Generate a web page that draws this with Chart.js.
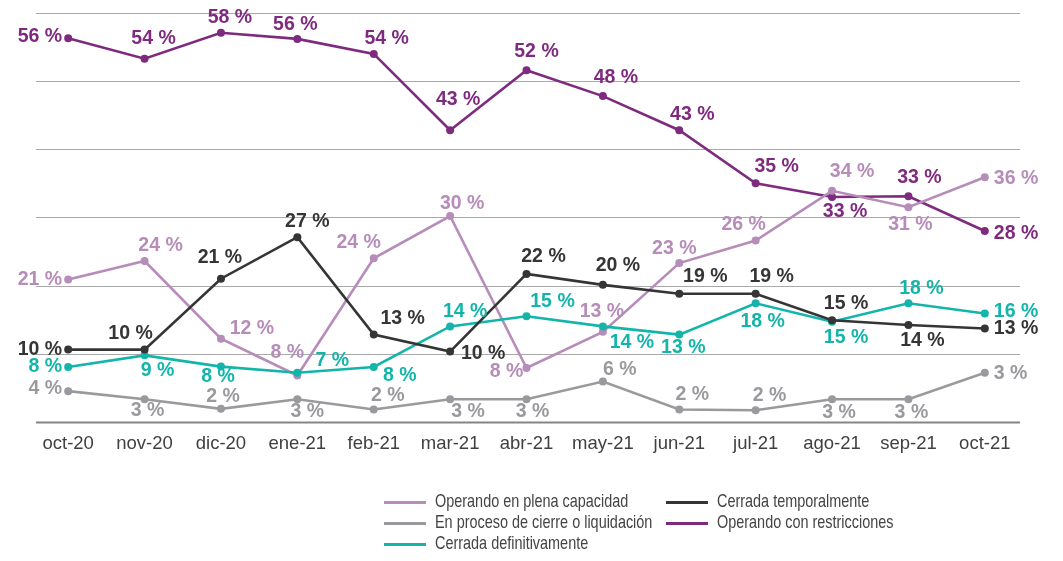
<!DOCTYPE html>
<html lang="es">
<head>
<meta charset="utf-8">
<title>Estado de las empresas</title>
<script src="https://cdn.jsdelivr.net/npm/chart.js@4.4.1/dist/chart.umd.min.js"></script>
<style>
  body { margin: 0; background: #fff; }
  #wrap { position: relative; width: 1063px; height: 561px; }
  #leyenda { position: absolute; left: 0; top: 0; font-family: "Liberation Sans", Arial, sans-serif; color: #444; }
  .item { position: absolute; height: 20px; white-space: nowrap; }
  .item span.linea { position: absolute; left: 0; top: 9px; width: 42px; height: 3px; }
  .item span.txt { position: absolute; left: 51px; top: -2px; font-size: 18.5px; transform: scaleX(0.78); transform-origin: left center; }
</style>
</head>
<body>
<div id="wrap">
  <canvas id="grafico" width="1063" height="561"></canvas>
  <div id="leyenda"></div>
</div>
<script>
"use strict";

// Meses del eje x
const meses = ["oct-20", "nov-20", "dic-20", "ene-21", "feb-21", "mar-21", "abr-21",
  "may-21", "jun-21", "jul-21", "ago-21", "sep-21", "oct-21"];

// Valores (porcentaje)
const plena = [20.9, 23.6, 12.2, 6.8, 24.0, 30.2, 7.9, 13.2, 23.3, 26.6, 33.9, 31.5, 35.9];
const temporal = [10.6, 10.6, 21.0, 27.1, 12.8, 10.3, 21.7, 20.1, 18.8, 18.8, 14.9, 14.2, 13.7];
const liquidacion = [4.5, 3.3, 1.9, 3.3, 1.8, 3.3, 3.3, 5.9, 1.8, 1.7, 3.3, 3.3, 7.2];
const restricciones = [56.3, 53.3, 57.1, 56.2, 54.0, 42.8, 51.6, 47.8, 42.8, 35.0, 33.0, 33.1, 28.0];
const definitiva = [8.05, 9.75, 8.1, 7.2, 8.05, 14.0, 15.5, 14.0, 12.8, 17.4, 14.7, 17.4, 15.9];

// Etiquetas tal como aparecen en el grafico
const etqPlena = [21, 24, 12, 8, 24, 30, 8, 13, 23, 26, 34, 31, 36];
const etqTemporal = [10, 10, 21, 27, 13, 10, 22, 20, 19, 19, 15, 14, 13];
const etqLiquidacion = [4, 3, 2, 3, 2, 3, 3, 6, 2, 2, 3, 3, 3];
const etqRestricciones = [56, 54, 58, 56, 54, 43, 52, 48, 43, 35, 33, 33, 28];
const etqDefinitiva = [8, 9, 8, 7, 8, 14, 15, 14, 13, 18, 15, 18, 16];

// Marcas del eje y (solo lineas de grilla)
const ticksY = [0, 10, 20, 30, 40, 50, 60];

// Donde va cada etiqueta respecto a su punto [dx, dy, alineacion]
const posPlena = [[-6, 0, "right"], [16, -15], [31, -10], [-10, -23], [-15, -16], [12, -12], [-20, 4],
  [-1, -20], [-5, -14], [-12, -16], [20, -19], [2, 17], [9, 1, "left"]];
const posTemporal = [[-6, 0, "right"], [-14, -16], [-1, -21], [10, -16], [29, -16], [33, 2], [17, -17],
  [15, -19], [26, -17], [16, -17], [14, -17], [14, 16], [9, 0, "left"]];
const posLiquidacion = [[-6, -3, "right"], [3, 11], [2, -12], [10, 12], [14, -14], [18, 12], [6, 12],
  [17, -12], [13, -15], [14, -15], [7, 13], [3, 13], [9, 1, "left"]];
const posRestricciones = [[-6, -2, "right"], [9, -20], [9, -15], [-2, -14], [13, -15], [8, -31], [10, -19],
  [13, -18], [13, -16], [21, -17], [13, 15], [11, -19], [9, 3, "left"]];
const posDefinitiva = [[-6, 0, "right"], [13, 15], [-3, 10], [35, -12], [26, 9], [15, -15], [26, -15],
  [29, 16], [4, 13], [7, 18], [14, 16], [13, -15], [9, -2, "left"]];

const series = [
  { nombre: "En proceso de cierre o liquidación", datos: liquidacion, etq: etqLiquidacion, pos: posLiquidacion, color: "#9a9a9e" },
  { nombre: "Cerrada temporalmente", datos: temporal, etq: etqTemporal, pos: posTemporal, color: "#353535" },
  { nombre: "Cerrada definitivamente", datos: definitiva, etq: etqDefinitiva, pos: posDefinitiva, color: "#13b5aa" },
  { nombre: "Operando en plena capacidad", datos: plena, etq: etqPlena, pos: posPlena, color: "#b68cb9" },
  { nombre: "Operando con restricciones", datos: restricciones, etq: etqRestricciones, pos: posRestricciones, color: "#7e2a7f" }
];

// Orden de la leyenda (dos columnas)
const ordenLeyenda = ["Operando en plena capacidad", "Cerrada temporalmente",
  "En proceso de cierre o liquidación", "Operando con restricciones", "Cerrada definitivamente"];

// Grilla horizontal y linea base
const grilla = {
  id: "grilla",
  beforeDatasetsDraw(chart) {
    const { ctx, chartArea, scales } = chart;
    const x0 = chartArea.left + 6;
    const x1 = chartArea.right - 3;
    ctx.save();
    ticksY.forEach(v => {
      const y = Math.round(scales.y.getPixelForValue(v)) + 0.5;
      ctx.beginPath();
      ctx.strokeStyle = v === 0 ? "#858585" : "#a9a9a9";
      ctx.lineWidth = v === 0 ? 2 : 1.2;
      ctx.moveTo(x0, y);
      ctx.lineTo(x1, y);
      ctx.stroke();
    });
    ctx.restore();
  }
};

// Etiquetas de porcentaje junto a cada punto
const etiquetas = {
  id: "etiquetas",
  afterDatasetsDraw(chart) {
    const ctx = chart.ctx;
    ctx.save();
    ctx.font = "bold 19.5px 'Liberation Sans', Arial, sans-serif";
    ctx.textBaseline = "middle";
    chart.data.datasets.forEach((ds, i) => {
      const s = series[i];
      chart.getDatasetMeta(i).data.forEach((p, j) => {
        const o = s.pos[j];
        ctx.fillStyle = s.color;
        ctx.textAlign = o[2] || "center";
        ctx.fillText(s.etq[j] + " %", p.x + o[0], p.y + o[1]);
      });
    });
    ctx.restore();
  }
};

new Chart(document.getElementById("grafico"), {
  type: "line",
  data: {
    labels: meses,
    datasets: series.map(s => ({
      label: s.nombre,
      data: s.datos,
      borderColor: s.color,
      backgroundColor: s.color,
      borderWidth: 2.6,
      pointRadius: 4,
      pointBorderWidth: 0,
      tension: 0,
      clip: false
    }))
  },
  options: {
    responsive: false,
    animation: false,
    layout: { padding: { left: 30, right: 40, top: 13, bottom: 95 } },
    plugins: { legend: { display: false }, tooltip: { enabled: false } },
    scales: {
      x: {
        offset: true,
        grid: { display: false, drawTicks: false },
        border: { display: false },
        ticks: {
          autoSkip: false,
          maxRotation: 0,
          padding: 11,
          color: "#404040",
          font: { family: "'Liberation Sans', Arial, sans-serif", size: 18.5 }
        }
      },
      y: {
        display: false,
        min: 0,
        max: 60,
        ticks: { stepSize: 10 }
      }
    }
  },
  plugins: [grilla, etiquetas]
});

// Leyenda en HTML
const leyenda = document.getElementById("leyenda");
ordenLeyenda.forEach((nombre, k) => {
  const s = series.find(x => x.nombre === nombre);
  const div = document.createElement("div");
  div.className = "item";
  div.style.left = (k % 2 === 0 ? 384 : 666) + "px";
  div.style.top = (492 + Math.floor(k / 2) * 21) + "px";
  div.innerHTML = '<span class="linea" style="background:' + s.color + '"></span><span class="txt">' + nombre + "</span>";
  leyenda.appendChild(div);
});
</script>
</body>
</html>
